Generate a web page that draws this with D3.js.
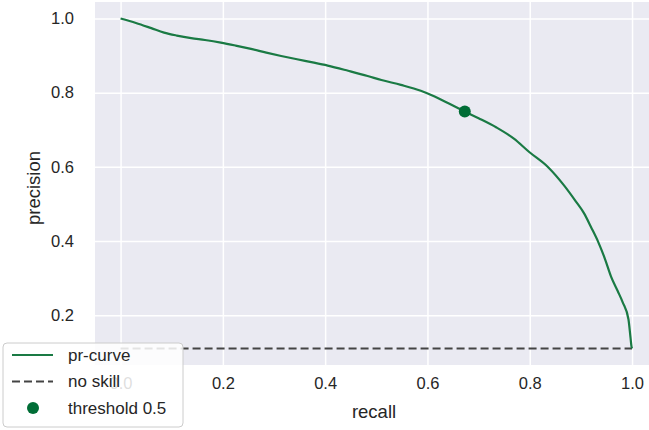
<!DOCTYPE html>
<html>
<head>
<meta charset="utf-8">
<script src="https://cdn.jsdelivr.net/npm/d3@7"></script>
<style>
  body { margin: 0; background: #fff; }
  svg { display: block; font-family: "Liberation Sans", Arial, sans-serif; }
</style>
</head>
<body>
<div id="chart"></div>
<script>
// Data
const recall = [0.000, 0.030, 0.060, 0.085, 0.110, 0.138, 0.165, 0.196, 0.225, 0.255,
  0.285, 0.314, 0.345, 0.378, 0.405, 0.445, 0.483, 0.510, 0.548, 0.587,
  0.613, 0.640, 0.673, 0.700, 0.735, 0.769, 0.799, 0.836, 0.867, 0.890,
  0.906, 0.920, 0.934, 0.947, 0.959, 0.972, 0.982, 0.993, 0.997, 0.999, 1.000]
const precision = [1.000, 0.988, 0.974, 0.962, 0.954, 0.947, 0.942, 0.935, 0.927, 0.918,
  0.908, 0.899, 0.890, 0.881, 0.873, 0.859, 0.845, 0.834, 0.821, 0.805,
  0.790, 0.772, 0.749, 0.731, 0.706, 0.676, 0.640, 0.599, 0.550, 0.507,
  0.475, 0.437, 0.397, 0.352, 0.304, 0.265, 0.234, 0.189, 0.140, 0.115, 0.110]
const noSkill = 0.11
const thresholdPoint = [0.673, 0.749]
const xTicks = [0.0, 0.2, 0.4, 0.6, 0.8, 1.0]
const yTicks = [0.2, 0.4, 0.6, 0.8, 1.0]
const legendLabels = ['pr-curve', 'no skill', 'threshold 0.5']

const dataset = recall.map((r, i) => ({ r, p: precision[i] }))

// Dimensions
const dims = {
  width: 649,
  height: 430,
  margin: { top: 2, left: 95, bottom: 65 }
}
dims.ctrWidth = 562.6
dims.ctrHeight = dims.height - dims.margin.top - dims.margin.bottom

const lineColor = '#1a7a44'
const dotColor = '#006d36'
const textColor = '#262626'

// Scales
const xScale = d3.scaleLinear()
  .domain([-0.05, 1.05])
  .range([0, dims.ctrWidth])

const yScale = d3.scaleLinear()
  .domain([0.0655, 1.0445])
  .range([dims.ctrHeight, 0])

const svg = d3.select('#chart')
  .append('svg')
  .attr('width', dims.width)
  .attr('height', dims.height)

const ctr = svg.append('g')
  .attr('transform', `translate(${dims.margin.left}, ${dims.margin.top})`)

ctr.append('rect')
  .attr('width', dims.ctrWidth)
  .attr('height', dims.ctrHeight)
  .attr('fill', '#eaeaf2')

// Grid
const xAxis = d3.axisBottom(xScale)
  .tickValues(xTicks)
  .tickFormat(d3.format('.1f'))
  .tickSize(-dims.ctrHeight)
  .tickPadding(12)

const xAxisGroup = ctr.append('g')
  .attr('transform', `translate(0, ${dims.ctrHeight})`)
  .call(xAxis)
xAxisGroup.select('.domain').remove()
xAxisGroup.selectAll('line').attr('stroke', '#fff').attr('stroke-width', 1.5)
xAxisGroup.selectAll('text')
  .attr('fill', textColor)
  .style('font-size', '16.5px')

const yAxis = d3.axisLeft(yScale)
  .tickValues(yTicks)
  .tickFormat(d3.format('.1f'))
  .tickSize(-dims.ctrWidth)
  .tickPadding(21)

const yAxisGroup = ctr.append('g').call(yAxis)
yAxisGroup.select('.domain').remove()
yAxisGroup.selectAll('line').attr('stroke', '#fff').attr('stroke-width', 1.5)
yAxisGroup.selectAll('text')
  .attr('fill', textColor)
  .style('font-size', '16.5px')

// Marks
ctr.append('line')
  .attr('x1', xScale(0))
  .attr('x2', xScale(1))
  .attr('y1', yScale(noSkill))
  .attr('y2', yScale(noSkill))
  .attr('stroke', '#444')
  .attr('stroke-width', 2.2)
  .attr('stroke-dasharray', '8,4')

const line = d3.line()
  .x(d => xScale(d.r))
  .y(d => yScale(d.p))
  .curve(d3.curveMonotoneX)

ctr.append('path')
  .datum(dataset)
  .attr('d', line)
  .attr('fill', 'none')
  .attr('stroke', lineColor)
  .attr('stroke-width', 2.2)

ctr.append('circle')
  .attr('cx', xScale(thresholdPoint[0]))
  .attr('cy', yScale(thresholdPoint[1]))
  .attr('r', 6)
  .attr('fill', dotColor)

// Axis labels
svg.append('text')
  .text('recall')
  .attr('x', 374)
  .attr('y', 418)
  .attr('text-anchor', 'middle')
  .attr('fill', textColor)
  .style('font-size', '18.5px')

svg.append('text')
  .text('precision')
  .attr('transform', 'translate(40, 188) rotate(-90)')
  .attr('text-anchor', 'middle')
  .attr('fill', textColor)
  .style('font-size', '18.5px')

// Legend (semi-transparent, covers the 0.0 tick like the original)
const legend = svg.append('g').attr('transform', 'translate(3, 343)')
legend.append('rect')
  .attr('width', 180)
  .attr('height', 84)
  .attr('rx', 4)
  .attr('fill', 'rgba(255,255,255,0.85)')
  .attr('stroke', '#cccccc')

const rows = legend.selectAll('g.row')
  .data(legendLabels)
  .join('g')
  .attr('transform', (d, i) => `translate(0, ${12 + i * 26.5})`)

rows.filter((d, i) => i < 2)
  .append('line')
  .attr('x1', 9)
  .attr('x2', 50)
  .attr('stroke', (d, i) => i === 0 ? lineColor : '#444')
  .attr('stroke-width', 2.2)
  .attr('stroke-dasharray', (d, i) => i === 1 ? '8,4' : null)

rows.filter((d, i) => i === 2)
  .append('circle')
  .attr('cx', 30)
  .attr('r', 6)
  .attr('fill', dotColor)

rows.append('text')
  .text(d => d)
  .attr('x', 65)
  .attr('dy', '0.35em')
  .attr('fill', textColor)
  .style('font-size', '17px')
</script>
</body>
</html>
